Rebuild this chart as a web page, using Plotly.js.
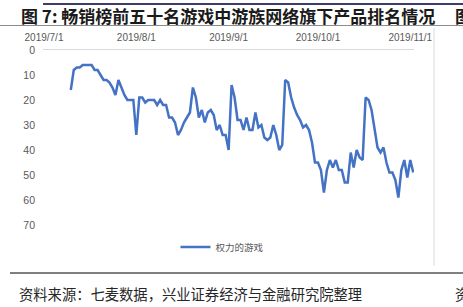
<!DOCTYPE html>
<html>
<head>
<meta charset="utf-8">
<script src="https://cdn.plot.ly/plotly-3.0.1.min.js"></script>
<style>html,body{margin:0;padding:0;background:#fff;}#chart{width:463px;height:307px;}</style>
</head>
<body>
<div id="chart"></div>
<script>
// ---- data ----
const startDate = '2019-07-10';
const ranks = [16, 8, 7, 7, 6, 6, 6, 6, 8, 8,
  10, 12, 12, 13, 15, 18, 12, 15, 18, 20,
  20, 20, 34, 19, 19, 21, 20, 20, 20, 22,
  20, 22, 22, 27, 27, 29, 34, 32, 29, 27,
  25, 15, 19, 27, 24, 29, 25, 24, 26, 32,
  30, 34, 34, 40, 14, 19, 28, 28, 32, 27,
  32, 32, 25, 31, 30, 35, 36, 35, 30, 34,
  40, 38, 12, 13, 19, 23, 26, 28, 31, 30,
  32, 37, 45, 45, 48, 57, 48, 44, 47, 44,
  48, 48, 53, 53, 41, 47, 40, 43, 44, 19,
  20, 24, 31, 39, 41, 39, 45, 49, 49, 52,
  59, 48, 44, 51, 44, 49];
const seriesName = '权力的游戏';
const xTickVals = ['2019-07-01', '2019-08-01', '2019-09-01', '2019-10-01', '2019-11-01'];
const xTickText = ['2019/7/1', '2019/8/1', '2019/9/1', '2019/10/1', '2019/11/1'];
const yTickVals = [0, 10, 20, 30, 40, 50, 60, 70];
const titleText = '图 7: 畅销榜前五十名游戏中游族网络旗下产品排名情况';
const sourceText = '资料来源：七麦数据，兴业证券经济与金融研究院整理';

// dates for each rank (consecutive days)
const dates = [];
(function(){
  const d0 = new Date(startDate + 'T00:00:00Z');
  for (let i = 0; i < ranks.length; i++) {
    const d = new Date(d0.getTime() + i * 86400000);
    dates.push(d.toISOString().slice(0, 10));
  }
})();

// ---- layout helpers (pixel -> paper) ----
const W = 463, H = 307;
const L = 43, R = 414, T = 50, B = 225;
const px = x => (x - L) / (R - L);
const py = y => (B - y) / (B - T);

const trace = {
  x: dates, y: ranks, type: 'scatter', mode: 'lines', name: seriesName,
  line: {color: '#4472C4', width: 2.5}
};

const layout = {
  width: W, height: H,
  margin: {l: L, r: W - R, t: T, b: H - B, pad: 0},
  paper_bgcolor: '#ffffff', plot_bgcolor: '#ffffff',
  showlegend: true,
  legend: {
    orientation: 'h', x: px(222), xanchor: 'center', y: py(247), yanchor: 'middle',
    font: {family: 'Noto Sans CJK SC', size: 9.5, color: '#595959'},
    itemwidth: 30, bgcolor: 'rgba(0,0,0,0)'
  },
  xaxis: {
    type: 'date', side: 'top',
    range: ['2019-06-30 16:00', '2019-11-02 06:00'],
    tickvals: xTickVals, ticktext: xTickText,
    showgrid: false, zeroline: false,
    showline: true, linecolor: '#d9d9d9', linewidth: 1,
    ticks: '', ticklabelstandoff: 4,
    tickfont: {family: 'Liberation Sans', size: 10, color: '#595959'}
  },
  yaxis: {
    range: [70, 0], tickvals: yTickVals,
    showgrid: false, zeroline: false, showline: false,
    ticks: '', ticklabelstandoff: 7,
    tickfont: {family: 'Liberation Sans', size: 10.5, color: '#595959'}
  },
  shapes: [
    {type: 'line', xref: 'paper', yref: 'paper', x0: px(43), x1: px(463), y0: py(4), y1: py(4), line: {color: '#3d3d6b', width: 2}},
    {type: 'line', xref: 'paper', yref: 'paper', x0: px(0), x1: px(463), y0: py(25.5), y1: py(25.5), line: {color: '#8c8c8c', width: 1}},
    {type: 'line', xref: 'paper', yref: 'paper', x0: px(434), x1: px(434), y0: py(28), y1: py(266), line: {color: '#d9d9d9', width: 1}},
    {type: 'line', xref: 'paper', yref: 'paper', x0: px(10), x1: px(463), y0: py(273), y1: py(273), line: {color: '#555555', width: 1.5}}
  ],
  annotations: [
    {text: '<b>' + titleText + '</b>', xref: 'paper', yref: 'paper', x: px(19), y: py(16), xanchor: 'left', yanchor: 'middle', showarrow: false,
      font: {family: 'Noto Sans CJK SC', size: 17, color: '#1a1a1a'}},
    {text: '<b>图</b>', xref: 'paper', yref: 'paper', x: px(453), y: py(16), xanchor: 'left', yanchor: 'middle', showarrow: false,
      font: {family: 'Noto Sans CJK SC', size: 17, color: '#1a1a1a'}},
    {text: sourceText, xref: 'paper', yref: 'paper', x: px(17), y: py(293), xanchor: 'left', yanchor: 'middle', showarrow: false,
      font: {family: 'Noto Sans CJK SC', size: 14.3, color: '#262626'}},
    {text: '资', xref: 'paper', yref: 'paper', x: px(453), y: py(293), xanchor: 'left', yanchor: 'middle', showarrow: false,
      font: {family: 'Noto Sans CJK SC', size: 14.3, color: '#262626'}}
  ]
};

Plotly.newPlot('chart', [trace], layout, {displayModeBar: false, staticPlot: true});
</script>
</body>
</html>
